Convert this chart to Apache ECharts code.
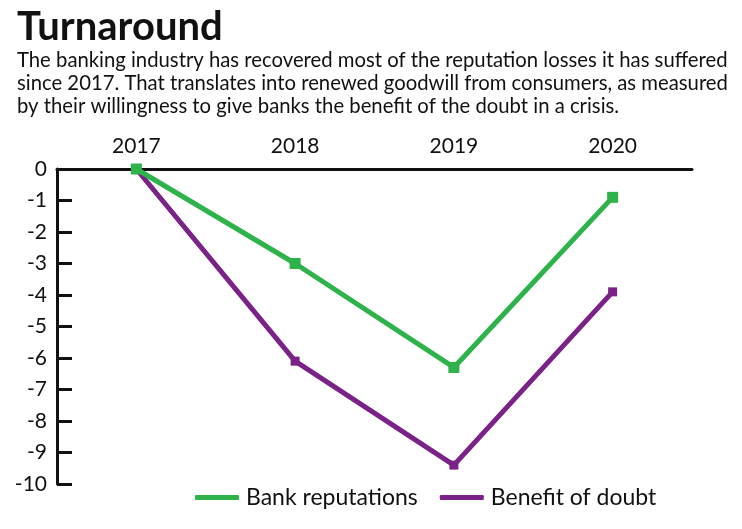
<!DOCTYPE html>
<html><head><meta charset="utf-8">
<script src="https://cdn.jsdelivr.net/npm/echarts@6/dist/echarts.min.js"></script>
<style>html,body{margin:0;padding:0;background:#fff}#c{width:742px;height:529px}</style>
</head><body><div id="c"></div>
<script>
const categories = ['2017', '2018', '2019', '2020'];
const bankReputations = [0, -3.0, -6.3, -0.9];
const benefitOfDoubt = [0, -6.1, -9.4, -3.9];
const yTicks = {min: -10, max: 0, interval: 1};

const FONT = 'Lato';
const chart = echarts.init(document.getElementById('c'));
chart.setOption({
  backgroundColor: '#fff',
  animation: false,
  title: {
    text: 'Turnaround',
    subtext: 'The banking industry has recovered most of the reputation losses it has suffered\nsince 2017. That translates into renewed goodwill from consumers, as measured\nby their willingness to give banks the benefit of the doubt in a crisis.',
    left: 12, top: 2, itemGap: 2,
    textStyle: {fontFamily: FONT, fontSize: 40, fontWeight: 'bold', color: '#111'},
    subtextStyle: {fontFamily: FONT, fontSize: 20.3, color: '#111', lineHeight: 23}
  },
  legend: {
    bottom: 15, left: 190,
    itemWidth: 44, itemHeight: 5, itemGap: 22,
    icon: 'roundRect',
    textStyle: {fontFamily: FONT, fontSize: 23, color: '#111', padding: [0, 0, 0, 2]},
    data: ['Bank reputations', 'Benefit of doubt']
  },
  grid: {left: 57, right: 50, top: 169, bottom: 45},
  xAxis: {
    type: 'category', position: 'top', data: categories, boundaryGap: true,
    axisLine: {lineStyle: {color: '#111', width: 3}},
    axisTick: {inside: true, length: 7, alignWithLabel: true, lineStyle: {color: '#111', width: 2}},
    axisLabel: {fontFamily: FONT, fontSize: 21, color: '#111', margin: 12}
  },
  yAxis: {
    type: 'value', min: yTicks.min, max: yTicks.max, interval: yTicks.interval,
    axisLine: {show: true, lineStyle: {color: '#111', width: 3}},
    axisTick: {show: true, inside: true, length: 15, lineStyle: {color: '#111', width: 3}},
    axisLabel: {fontFamily: FONT, fontSize: 21, color: '#111', margin: 10},
    splitLine: {show: false}
  },
  series: [
    {
      name: 'Benefit of doubt', type: 'line', data: benefitOfDoubt,
      symbol: 'rect', symbolSize: 9, z: 2,
      itemStyle: {color: '#7a2287'},
      lineStyle: {color: '#7a2287', width: 5}
    },
    {
      name: 'Bank reputations', type: 'line', data: bankReputations,
      symbol: 'rect', symbolSize: 11, z: 3,
      itemStyle: {color: '#2db34a'},
      lineStyle: {color: '#2db34a', width: 5}
    }
  ]
});
</script></body></html>
